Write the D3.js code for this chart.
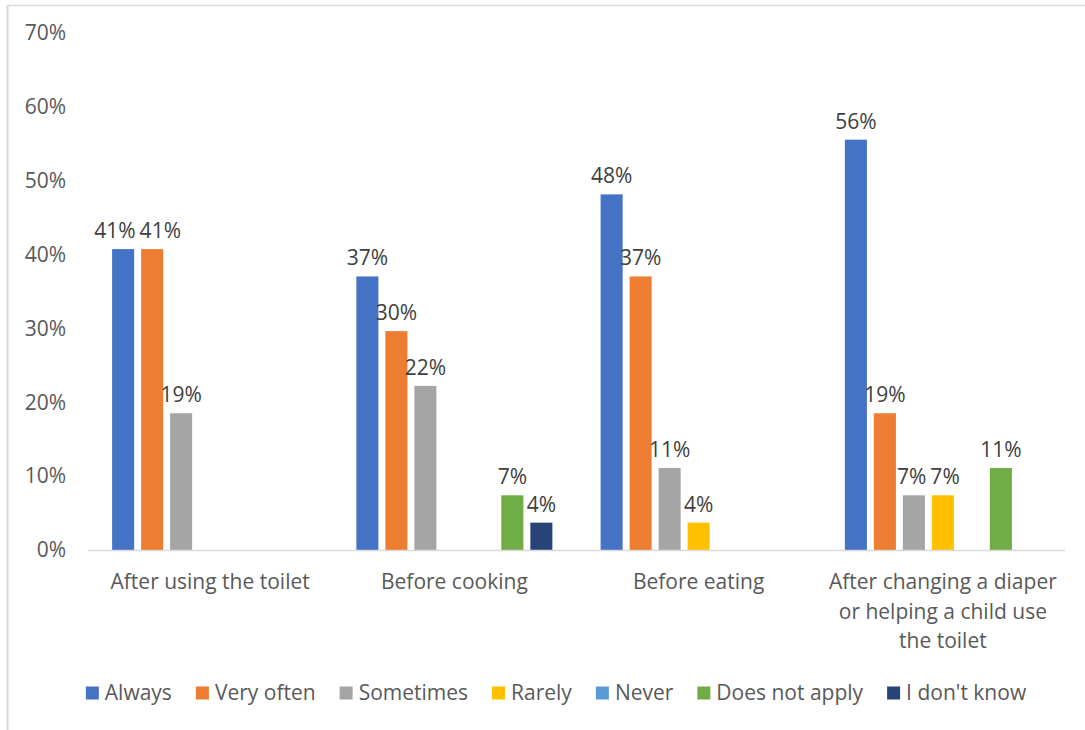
<!DOCTYPE html>
<html>
<head>
<meta charset="utf-8">
<script src="https://cdn.jsdelivr.net/npm/d3@7"></script>
<style>
  html, body { margin: 0; padding: 0; background: #fff; }
  svg { display: block; font-family: "Open Sans", "Noto Sans", sans-serif; }
</style>
</head>
<body>
<svg id="chart" width="1085" height="730"></svg>
<script>
// Survey question: how often do respondents wash their hands (share of 27 answers)
const categories = [
  "After using the toilet",
  "Before cooking",
  "Before eating",
  "After changing a diaper or helping a child use the toilet"
];
const seriesNames = ["Always", "Very often", "Sometimes", "Rarely", "Never", "Does not apply", "I don't know"];
const seriesColors = ["#4472C4", "#ED7D31", "#A5A5A5", "#FFC000", "#5B9BD5", "#70AD47", "#264478"];

const always       = [11 / 27, 10 / 27, 13 / 27, 15 / 27];
const veryOften    = [11 / 27,  8 / 27, 10 / 27,  5 / 27];
const sometimes    = [ 5 / 27,  6 / 27,  3 / 27,  2 / 27];
const rarely       = [null,     null,    1 / 27,  2 / 27];
const never        = [null,     null,    null,    null];
const doesNotApply = [null,     2 / 27,  null,    3 / 27];
const dontKnow     = [null,     1 / 27,  null,    null];
const seriesValues = [always, veryOften, sometimes, rarely, never, doesNotApply, dontKnow];

const yTicks = [0, 0.1, 0.2, 0.3, 0.4, 0.5, 0.6, 0.7];

const svg = d3.select("#chart");
const fontFamily = "'Open Sans', 'Noto Sans', sans-serif";
const fontSize = 21;
const textColor = "#595959";
const labelColor = "#404040";

// outer frame
svg.append("line").attr("x1", 7).attr("x2", 1085).attr("y1", 5.5).attr("y2", 5.5)
  .attr("stroke", "#d9d9d9").attr("stroke-width", 1.5);
svg.append("line").attr("x1", 7.5).attr("x2", 7.5).attr("y1", 5).attr("y2", 730)
  .attr("stroke", "#d9d9d9").attr("stroke-width", 2);

const plot = { left: 88, right: 1065, top: 33, bottom: 550 };

const y = d3.scaleLinear().domain([0, 0.7]).range([plot.bottom, plot.top]);
const x0 = d3.scaleBand().domain(categories).range([plot.left, plot.right])
  .paddingInner(0.169).paddingOuter(0.0845);
const x1 = d3.scaleBand().domain(seriesNames).range([0, x0.bandwidth()])
  .paddingInner(0.24).paddingOuter(0.12);
const color = d3.scaleOrdinal().domain(seriesNames).range(seriesColors);
const pct = d3.format(".0%");

// y axis labels (no axis line, no gridlines)
const yAxis = svg.append("g").attr("transform", `translate(${plot.left - 22},0)`)
  .call(d3.axisLeft(y).tickValues(yTicks).tickFormat(pct).tickSize(0).tickPadding(0));
yAxis.select(".domain").remove();
yAxis.selectAll("text").attr("font-size", fontSize).attr("fill", textColor)
  .attr("font-family", fontFamily);

// bars
const groups = svg.append("g").selectAll("g").data(categories).join("g")
  .attr("transform", d => `translate(${x0(d)},0)`);

const cells = groups.selectAll("g.cell")
  .data((c, ci) => seriesNames.map((s, si) => ({ series: s, value: seriesValues[si][ci] })))
  .join("g").attr("class", "cell");

cells.filter(d => d.value != null).append("rect")
  .attr("x", d => x1(d.series))
  .attr("width", x1.bandwidth())
  .attr("y", d => y(d.value))
  .attr("height", d => y(0) - y(d.value))
  .attr("fill", d => color(d.series));

cells.filter(d => d.value != null).append("text")
  .attr("class", "vlabel")
  .attr("x", d => x1(d.series) + x1.bandwidth() / 2)
  .attr("y", d => y(d.value) - 11)
  .attr("text-anchor", "middle")
  .attr("font-size", fontSize)
  .attr("fill", labelColor)
  .text(d => pct(d.value));

// push apart value labels that sit at the same height and would collide
groups.each(function () {
  const labels = d3.select(this).selectAll("text.vlabel").nodes()
    .map(n => ({ n, x: +n.getAttribute("x"), y: +n.getAttribute("y"), w: n.getComputedTextLength() }));
  for (let i = 0; i < labels.length - 1; i++) {
    const a = labels[i], b = labels[i + 1];
    if (Math.abs(a.y - b.y) < fontSize) {
      const overlap = (a.x + a.w / 2 + 4) - (b.x - b.w / 2);
      if (overlap > 0) {
        a.x -= overlap / 2; b.x += overlap / 2;
        a.n.setAttribute("x", a.x); b.n.setAttribute("x", b.x);
      }
    }
  }
});

// category axis line
svg.append("line").attr("x1", plot.left).attr("x2", plot.right)
  .attr("y1", plot.bottom + 0.5).attr("y2", plot.bottom + 0.5)
  .attr("stroke", "#d9d9d9").attr("stroke-width", 1.5);

// category labels, wrapped to the band width
const maxLabelWidth = 240;
const measurer = svg.append("text").attr("font-size", fontSize).attr("visibility", "hidden");
function wrap(str) {
  const words = str.split(" ");
  const lines = [];
  let line = "";
  for (const w of words) {
    const test = line ? line + " " + w : w;
    measurer.text(test);
    if (line && measurer.node().getComputedTextLength() > maxLabelWidth) {
      lines.push(line);
      line = w;
    } else {
      line = test;
    }
  }
  if (line) lines.push(line);
  return lines;
}
categories.forEach(c => {
  const lines = wrap(c);
  const cx = x0(c) + x0.bandwidth() / 2;
  const t = svg.append("text")
    .attr("x", cx)
    .attr("y", 589)
    .attr("text-anchor", "middle")
    .attr("font-size", fontSize)
    .attr("fill", textColor);
  lines.forEach((ln, i) => {
    t.append("tspan").attr("x", cx).attr("dy", i === 0 ? 0 : 29.5).text(ln);
  });
});

// legend
const legendY = 693;
const sq = 13, sqGap = 6, itemGap = 24;
const widths = seriesNames.map(s => { measurer.text(s); return measurer.node().getComputedTextLength(); });
const total = d3.sum(widths) + seriesNames.length * (sq + sqGap) + (seriesNames.length - 1) * itemGap;
let lx = 556 - total / 2;
const legend = svg.append("g");
seriesNames.forEach((s, i) => {
  legend.append("rect").attr("x", lx).attr("y", legendY - sq / 2).attr("width", sq).attr("height", sq)
    .attr("fill", color(s));
  legend.append("text").attr("x", lx + sq + sqGap).attr("y", legendY).attr("dy", "0.35em")
    .attr("font-size", fontSize).attr("fill", textColor).text(s);
  lx += sq + sqGap + widths[i] + itemGap;
});
measurer.remove();
</script>
</body>
</html>
